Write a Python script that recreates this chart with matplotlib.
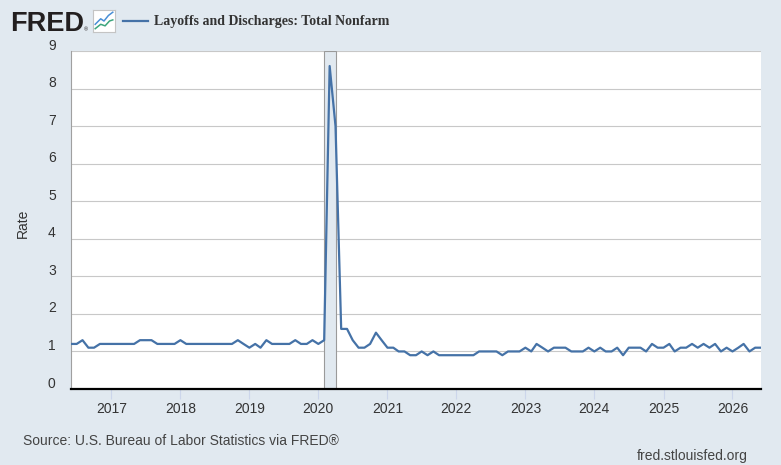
import matplotlib
matplotlib.use("Agg")
import matplotlib.pyplot as plt
import matplotlib.dates as mdates
import matplotlib.transforms as mtransforms
import pandas as pd

# Layoffs and discharges rate, total nonfarm, monthly from 2016-06
start_month = "2016-06-01"
rate = [
    1.2, 1.2, 1.3, 1.1, 1.1, 1.2, 1.2,                          # 2016 Jun-Dec
    1.2, 1.2, 1.2, 1.2, 1.2, 1.3, 1.3, 1.3, 1.2, 1.2, 1.2, 1.2,  # 2017
    1.3, 1.2, 1.2, 1.2, 1.2, 1.2, 1.2, 1.2, 1.2, 1.2, 1.3, 1.2,  # 2018
    1.1, 1.2, 1.1, 1.3, 1.2, 1.2, 1.2, 1.2, 1.3, 1.2, 1.2, 1.3,  # 2019
    1.2, 1.3, 8.6, 7.0, 1.6, 1.6, 1.3, 1.1, 1.1, 1.2, 1.5, 1.3,  # 2020
    1.1, 1.1, 1.0, 1.0, 0.9, 0.9, 1.0, 0.9, 1.0, 0.9, 0.9, 0.9,  # 2021
    0.9, 0.9, 0.9, 0.9, 1.0, 1.0, 1.0, 1.0, 0.9, 1.0, 1.0, 1.0,  # 2022
    1.1, 1.0, 1.2, 1.1, 1.0, 1.1, 1.1, 1.1, 1.0, 1.0, 1.0, 1.1,  # 2023
    1.0, 1.1, 1.0, 1.0, 1.1, 0.9, 1.1, 1.1, 1.1, 1.0, 1.2, 1.1,  # 2024
    1.1, 1.2, 1.0, 1.1, 1.1, 1.2, 1.1, 1.2, 1.1, 1.2, 1.0, 1.1,  # 2025
    1.0, 1.1, 1.2, 1.0, 1.1, 1.1,                                # 2026 Jan-Jun
]
dates = pd.date_range(start_month, periods=len(rate), freq="MS")

recession_start = pd.Timestamp("2020-02-01")
recession_end = pd.Timestamp("2020-04-01")
y_ticks = list(range(0, 10))

series_title = "Layoffs and Discharges: Total Nonfarm"
source_text = "Source: U.S. Bureau of Labor Statistics via FRED\u00ae"
site_text = "fred.stlouisfed.org"

BG = "#e1e9f0"
LINE = "#4572a7"
TEXT = "#333333"

plt.rcParams["font.family"] = ["Liberation Sans", "DejaVu Sans"]

W, H = 781, 465
fig = plt.figure(figsize=(W / 100, H / 100), dpi=100, facecolor=BG)

# plot area in pixels: x 71..761, y 51..389
ax = fig.add_axes([71 / W, 1 - 389 / H, 690 / W, 338 / H])
ax.set_facecolor("white")

line, = ax.plot(dates, rate, color=LINE, lw=1.6, zorder=3,
                solid_joinstyle="round", label=series_title)
ax.axvspan(recession_start, recession_end, facecolor=BG,
           edgecolor="#9a9a9a", lw=0.8, zorder=2)

ax.set_xlim(dates[0], dates[-1])
ax.set_ylim(0, 9)
ax.set_yticks(y_ticks)
ax.xaxis.set_major_locator(mdates.YearLocator())
ax.xaxis.set_major_formatter(mdates.DateFormatter("%Y"))

ax.set_axisbelow(True)
ax.yaxis.grid(True, color="#c8c8c8", lw=0.8)
ax.xaxis.grid(False)

for side in ("top", "right"):
    ax.spines[side].set_visible(False)
ax.spines["left"].set_color("#a0a0a0")
ax.spines["left"].set_linewidth(0.8)
ax.spines["bottom"].set_color("black")
ax.spines["bottom"].set_linewidth(1.6)
ax.spines["bottom"].set_zorder(4)

ax.tick_params(axis="y", length=0, pad=11, labelsize=10, labelcolor=TEXT)
ax.tick_params(axis="x", direction="out", length=7.5, width=0.8,
               color="#ccd6eb", pad=1.5, labelsize=10, labelcolor=TEXT)

# FRED puts the value labels slightly above their grid lines
lift = mtransforms.ScaledTranslation(0, 0.07, fig.dpi_scale_trans)
for lab in ax.get_yticklabels():
    lab.set_transform(lab.get_transform() + lift)

ax.set_ylabel("Rate", fontsize=10, color=TEXT)
ax.yaxis.set_label_coords(-0.059, 0.49)

# header: logo, icon and legend
fig.text(10 / W, 1 - 31 / H, "FRED", fontsize=19.5, weight="bold",
         color="#231f20", va="baseline", ha="left")
fig.text(84 / W, 1 - 31 / H, "\u00ae", fontsize=4, color="#231f20",
         va="baseline", ha="left")

icon = fig.add_axes([93 / W, 1 - 32 / H, 22 / W, 22 / H])
icon.set_facecolor("white")
icon.plot([0.1, 0.35, 0.5, 0.7, 0.9], [0.35, 0.6, 0.5, 0.75, 0.9],
          color="#4a8fd6", lw=1.1)
icon.plot([0.1, 0.35, 0.55, 0.75, 0.9], [0.15, 0.35, 0.28, 0.5, 0.55],
          color="#3ca57c", lw=1.1)
icon.set_xlim(0, 1)
icon.set_ylim(0, 1)
icon.set_xticks([])
icon.set_yticks([])
for s in icon.spines.values():
    s.set_color("#c4c4c4")
    s.set_linewidth(0.8)

leg = fig.legend(handles=[line], loc="center left",
                 bbox_to_anchor=(123 / W, 1 - 22 / H),
                 bbox_transform=fig.transFigure, frameon=False,
                 borderpad=0, borderaxespad=0, handlelength=1.8,
                 handletextpad=0.4,
                 prop={"family": "Liberation Serif", "weight": "bold",
                       "size": 10})
for t in leg.get_texts():
    t.set_color(TEXT)

# footer
fig.text(23 / W, 1 - 444.5 / H, source_text, fontsize=10, color="#444444",
         va="baseline", ha="left")
fig.text(748 / W, 1 - 460 / H, site_text, fontsize=10, color="#444444",
         va="baseline", ha="right")

fig.savefig("out.png", dpi=100, facecolor=BG)
plt.close(fig)
